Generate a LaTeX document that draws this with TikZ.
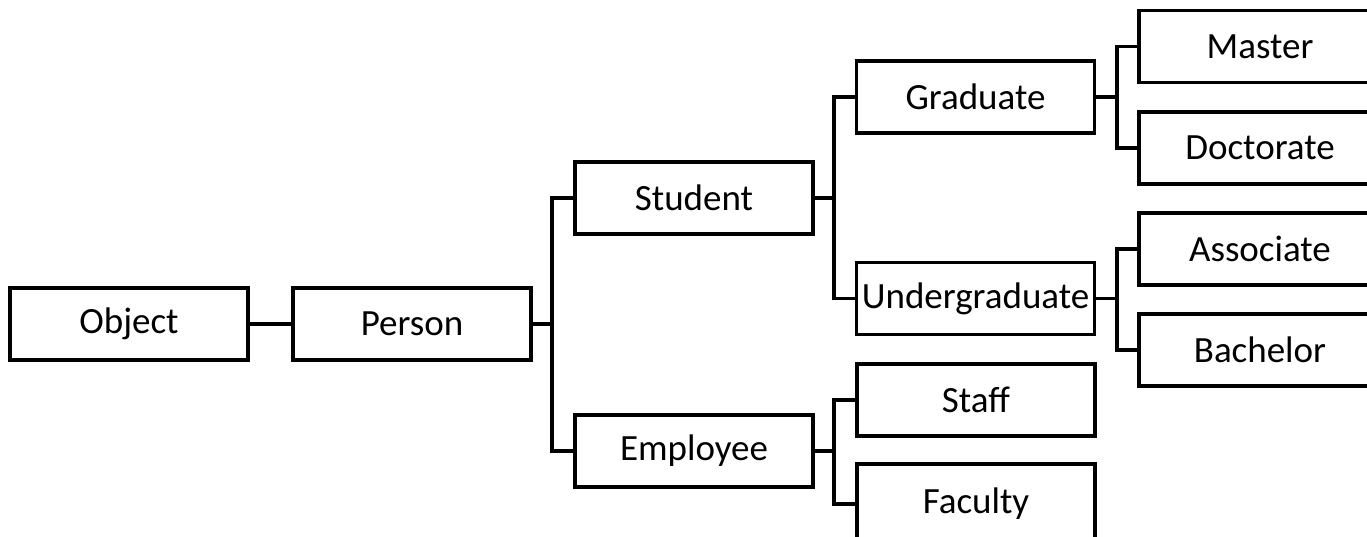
\documentclass[tikz,border=0pt]{standalone}
\usepackage{fontspec}
\setmainfont{Carlito}
\begin{document}
\begin{tikzpicture}[x=1pt,y=-1pt,
  box/.style={draw=black,line width=3.3pt,rectangle,minimum width=238pt,minimum height=72pt,inner sep=0pt,font=\fontsize{37}{42}\selectfont,fill=white},
  wide/.style={box,minimum width=250pt},
  conn/.style={line width=3.3pt,line cap=rect}]
\useasboundingbox (0,0) rectangle (1367,537);
\node[box] (obj) at (129,324) {Object};
\node[box] (per) at (412,324) {Person};
\node[box] (stu) at (694,198) {Student};
\node[box] (emp) at (694,451) {Employee};
\node[box] (gra) at (975.5,97) {Graduate};
\node[box] (und) at (975.5,298.5) {Undergraduate};
\node[box] (sta) at (976,400) {Staff};
\node[box,minimum height=80pt] (fac) at (976,504) {Faculty};
\node[wide] (mas) at (1264,46.5) {\hspace*{-8pt}Master};
\node[wide] (doc) at (1264,148) {\hspace*{-8pt}Doctorate};
\node[wide] (ass) at (1264,249) {\hspace*{-8pt}Associate};
\node[wide] (bac) at (1264,350) {\hspace*{-8pt}Bachelor};
\coordinate (j1) at (552,324);
\coordinate (j2) at (834,198);
\coordinate (j3) at (834,451);
\coordinate (j4) at (1117,97);
\coordinate (j5) at (1117,298.5);
\draw[conn] (obj.east) -- (per.west);
\draw[conn] (per.east) -- (j1);
\draw[conn] (stu.west) -| (j1) |- (emp.west);
\draw[conn] (stu.east) -- (j2);
\draw[conn] (gra.west) -| (j2) |- (und.west);
\draw[conn] (emp.east) -- (j3);
\draw[conn] (sta.west) -| (j3) |- (fac.west);
\draw[conn] (gra.east) -- (j4);
\draw[conn] (mas.west) -| (j4) |- (doc.west);
\draw[conn] (und.east) -- (j5);
\draw[conn] (ass.west) -| (j5) |- (bac.west);
\end{tikzpicture}
\end{document}
